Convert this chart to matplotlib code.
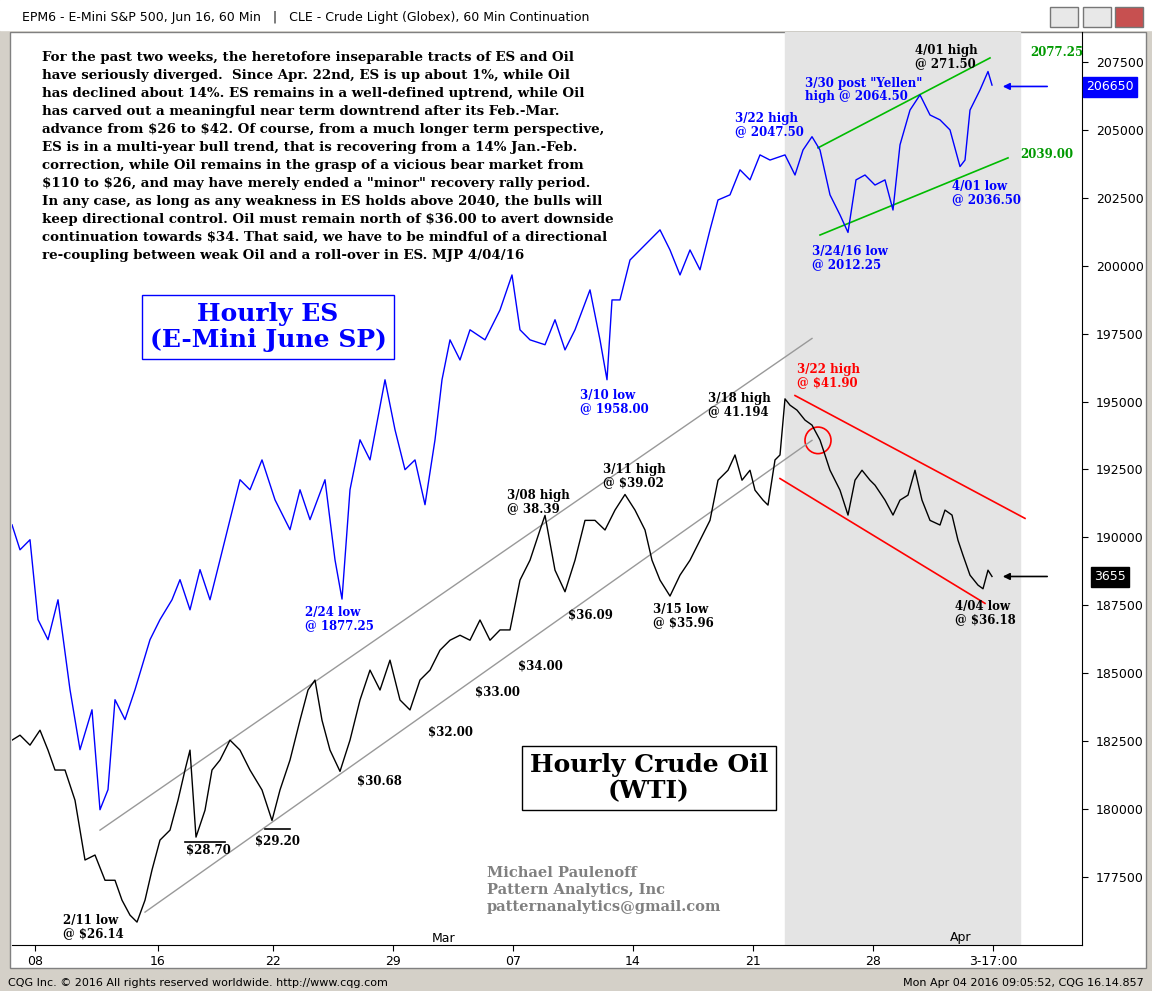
import numpy as np
import matplotlib.pyplot as plt
from matplotlib.patches import Rectangle, Ellipse

W, H = 1152, 991

# hourly bar index (one column per bar) and prices
es_bar = [12,20,30,38,48,58,70,80,92,100,108,115,125,135,150,160,172,180,190,200,210,220,230,240,250,262,275,290,300,310,325,335,342,350,360,370,385,395,405,415,425,435,442,450,460,470,485,500,512,520,530,545,555,565,575,590,600,607,612,620,630,640,650,660,670,680,690,700,710,718,730,740,750,760,770,785,795,803,812,820,830,840,848,856,865,875,885,893,900,910,920,930,940,950,960,965,970,980,988,992]
es_px = [1904.6,1895.4,1899.1,1869.7,1862.3,1877.0,1843.9,1821.8,1836.5,1799.7,1807.1,1840.2,1832.9,1843.9,1862.3,1869.7,1877.0,1884.4,1873.3,1888.1,1877.0,1891.7,1906.5,1921.2,1917.5,1928.5,1913.8,1902.8,1917.5,1906.5,1921.2,1891.7,1877.25,1917.5,1935.9,1928.5,1958.0,1939.6,1924.9,1928.5,1912.0,1935.9,1958.0,1972.7,1965.3,1976.4,1972.7,1983.7,1996.6,1976.4,1972.7,1970.9,1980.1,1969.0,1976.4,1991.1,1972.7,1958.0,1987.4,1987.4,2002.1,2005.8,2009.5,2013.2,2005.8,1996.6,2005.8,1998.5,2013.2,2024.2,2026.1,2035.3,2031.6,2040.8,2038.9,2040.8,2033.4,2042.6,2047.5,2042.6,2026.1,2018.7,2012.25,2031.6,2033.4,2029.7,2031.6,2020.5,2044.5,2057.3,2062.9,2055.5,2053.7,2050.0,2036.5,2038.9,2057.3,2064.7,2071.5,2066.5]

oil_bar = [12,20,30,40,48,55,65,75,85,95,105,115,122,130,137,145,152,160,170,178,185,190,196,205,212,220,230,240,250,262,272,280,290,300,308,315,322,330,340,350,360,370,380,390,400,410,420,430,440,450,460,470,480,490,500,510,520,530,540,545,555,565,575,585,595,605,615,625,635,645,652,660,670,680,690,700,710,718,728,735,742,750,755,763,768,775,780,785,790,797,805,812,820,825,830,840,848,855,862,870,875,885,893,900,908,915,922,930,940,945,952,958,963,970,978,983,988,992]
oil_px = [31.62,31.77,31.47,31.92,31.32,30.72,30.72,29.81,28.01,28.16,27.40,27.40,26.80,26.35,26.14,26.80,27.71,28.61,28.91,29.81,30.72,31.32,28.70,29.51,30.72,31.02,31.62,31.32,30.72,30.12,29.20,30.12,31.02,32.22,33.13,33.43,32.22,31.32,30.68,31.62,32.83,33.73,33.13,34.03,32.83,32.53,33.43,33.73,34.33,34.63,34.78,34.63,35.24,34.63,34.94,34.94,36.44,37.04,37.95,38.39,36.74,36.09,37.04,38.24,38.24,37.95,38.55,39.02,38.55,37.95,37.04,36.44,35.96,36.59,37.04,37.64,38.24,39.45,39.75,40.21,39.45,39.75,39.15,38.85,38.70,40.06,40.21,41.90,41.71,41.56,41.26,41.11,40.66,40.21,39.75,39.15,38.40,39.45,39.75,39.45,39.30,38.85,38.40,38.85,39.00,39.75,38.85,38.24,38.10,38.55,38.40,37.64,37.19,36.59,36.29,36.18,36.74,36.55]

es_ticks = list(range(177500, 207501, 2500))
date_bars = [35, 158, 273, 393, 513, 633, 753, 873]
date_lbls = ["08", "16", "22", "29", "07", "14", "21", "28"]

para = [
 "For the past two weeks, the heretofore inseparable tracts of ES and Oil",
 "have seriously diverged.  Since Apr. 22nd, ES is up about 1%, while Oil",
 "has declined about 14%. ES remains in a well-defined uptrend, while Oil",
 "has carved out a meaningful near term downtrend after its Feb.-Mar.",
 "advance from $26 to $42. Of course, from a much longer term perspective,",
 "ES is in a multi-year bull trend, that is recovering from a 14% Jan.-Feb.",
 "correction, while Oil remains in the grasp of a vicious bear market from",
 "$110 to $26, and may have merely ended a \"minor\" recovery rally period.",
 "In any case, as long as any weakness in ES holds above 2040, the bulls will",
 "keep directional control. Oil must remain north of $36.00 to avert downside",
 "continuation towards $34. That said, we have to be mindful of a directional",
 "re-coupling between weak Oil and a roll-over in ES. MJP 4/04/16",
]

SERIF = "DejaVu Serif"

def fx(x): return x / W
def fy(y): return 1 - y / H

fig = plt.figure(figsize=(W/100, H/100), dpi=100)
fig.patch.set_facecolor("#d4d0c8")

# title bar
fig.patches.append(Rectangle((0, fy(30)), 1, 30/H, transform=fig.transFigure, color="#ffffff", zorder=0))
fig.text(fx(22), fy(18), "EPM6 - E-Mini S&P 500, Jun 16, 60 Min   |   CLE - Crude Light (Globex), 60 Min Continuation",
         fontsize=9, va="center", family="DejaVu Sans")
for bx in [1050, 1083, 1115]:
    fig.patches.append(Rectangle((fx(bx), fy(27)), 28/W, 20/H, transform=fig.transFigure,
                                 facecolor="#e8e8e8" if bx < 1115 else "#c75050", edgecolor="#777777", zorder=1))

# white chart panel incl. right axis strip
fig.patches.append(Rectangle((fx(10), fy(968)), 1136/W, 936/H, transform=fig.transFigure,
                             facecolor="white", edgecolor="#808080", zorder=-1))

L, R, T, B = 12, 1082, 32, 945
ax = fig.add_axes([fx(L), fy(B), (R-L)/W, (B-T)/H])
ax.set_zorder(2)
ax.set_xlim(12, 1082)
ax.set_ylim(1749.89, 2086.05)
ax2 = ax.twinx()
ax2.set_zorder(3)
ax2.set_ylim(25.45, 52.95)
for a in (ax, ax2):
    a.set_facecolor("none")
    for s in a.spines.values():
        s.set_visible(False)
ax.spines["right"].set_visible(True)
ax.spines["right"].set_color("black")
ax.spines["bottom"].set_visible(True)
ax.spines["bottom"].set_color("black")
ax2.set_yticks([])

ax.set_yticks([v/100 for v in es_ticks])
ax.set_yticklabels([str(v) for v in es_ticks], fontsize=9, family="DejaVu Sans")
ax.yaxis.tick_right()
ax.tick_params(axis="y", length=4, pad=6)
ax.set_xticks(date_bars + [993])
ax.set_xticklabels(date_lbls + ["3-17:00"], fontsize=9, family="DejaVu Sans")
ax.tick_params(axis="x", length=4, pad=3)

# shaded recent period
ax.axvspan(785, 1020, color="#e4e4e4", zorder=0)

ax.plot(es_bar, es_px, color="#0000ff", lw=1.0, zorder=3)
ax2.plot(oil_bar, oil_px, color="black", lw=1.0, zorder=3)

# channels
ax2.plot([145, 812], [26.44, 40.65], color="#999999", lw=1)
ax2.plot([100, 812], [28.91, 43.72], color="#999999", lw=1)
ax2.plot([795, 1025], [42.0, 38.3], color="red", lw=1.2)
ax2.plot([780, 985], [39.5, 35.74], color="red", lw=1.2)
ax.plot([818, 990], [2043.4, 2076.5], color="#00bb00", lw=1.2)
ax.plot([820, 1008], [2011.3, 2039.7], color="#00bb00", lw=1.2)
ax2.plot([185, 225], [28.55, 28.55], color="black", lw=1.2)
ax2.plot([265, 290], [28.95, 28.95], color="black", lw=1.2)
ax2.add_patch(Ellipse((818, 40.65), 26, 0.8, fill=False, edgecolor="red", lw=1.2))

ax.annotate("", xy=(1000, 2066.0), xytext=(1050, 2066.0),
            arrowprops=dict(arrowstyle="-|>", color="#0000ff", lw=1.2))
ax2.annotate("", xy=(1000, 36.55), xytext=(1050, 36.55),
             arrowprops=dict(arrowstyle="-|>", color="black", lw=1.2))

# current price boxes
fig.text(fx(1110), fy(87), "206650", fontsize=9, color="white", ha="center", va="center", zorder=5,
         bbox=dict(boxstyle="square,pad=0.25", fc="#0000ff", ec="#0000ff"))
fig.text(fx(1110), fy(577), "3655", fontsize=9, color="white", ha="center", va="center", zorder=5,
         bbox=dict(boxstyle="square,pad=0.25", fc="black", ec="black"))

# paragraph
for i, line in enumerate(para):
    fig.text(fx(42), fy(57 + i*18), line.replace("$", r"\$"), fontsize=9.6, fontweight="bold",
             family=SERIF, va="center", zorder=5)

fig.text(fx(268), fy(327), "Hourly ES\n(E-Mini June SP)", fontsize=18, fontweight="bold", family=SERIF,
         color="#0000ff", ha="center", va="center", linespacing=1.1, zorder=5,
         bbox=dict(boxstyle="square,pad=0.3", fc="white", ec="#0000ff"))
fig.text(fx(649), fy(778), "Hourly Crude Oil\n(WTI)", fontsize=18, fontweight="bold", family=SERIF,
         color="black", ha="center", va="center", linespacing=1.1, zorder=5,
         bbox=dict(boxstyle="square,pad=0.3", fc="white", ec="black"))
fig.text(fx(487), fy(890), "Michael Paulenoff\nPattern Analytics, Inc\npatternanalytics@gmail.com", fontsize=10.5,
         fontweight="bold", family=SERIF, color="#808080", va="center", linespacing=1.25, zorder=5)

labels = [
 ("3/22 high\n@ 2047.50", 735, 125, "#0000ff"),
 ("4/01 high\n@ 271.50", 915, 57, "black"),
 ("3/30 post \"Yellen\"\nhigh @ 2064.50", 805, 90, "#0000ff"),
 ("2077.25", 1030, 53, "#009900"),
 ("2039.00", 1020, 155, "#009900"),
 ("4/01 low\n@ 2036.50", 952, 193, "#0000ff"),
 ("3/24/16 low\n@ 2012.25", 812, 258, "#0000ff"),
 ("3/10 low\n@ 1958.00", 580, 402, "#0000ff"),
 ("2/24 low\n@ 1877.25", 305, 619, "#0000ff"),
 ("3/18 high\n@ 41.194", 708, 405, "black"),
 ("3/22 high\n@ $41.90", 797, 376, "red"),
 ("3/11 high\n@ $39.02", 603, 476, "black"),
 ("3/08 high\n@ 38.39", 507, 502, "black"),
 ("$36.09", 568, 615, "black"),
 ("3/15 low\n@ $35.96", 653, 616, "black"),
 ("4/04 low\n@ $36.18", 955, 613, "black"),
 ("$34.00", 518, 666, "black"),
 ("$33.00", 475, 692, "black"),
 ("$32.00", 428, 732, "black"),
 ("$30.68", 357, 781, "black"),
 ("$28.70", 186, 850, "black"),
 ("$29.20", 255, 841, "black"),
 ("2/11 low\n@ $26.14", 63, 927, "black"),
]
for txt, x, y, c in labels:
    fig.text(fx(x), fy(y), txt.replace("$", r"\$"), fontsize=8.5, family=SERIF, fontweight="bold", color=c,
             va="center", linespacing=1.05, zorder=5)

fig.text(fx(432), fy(938), "Mar", fontsize=9, va="center", family="DejaVu Sans", zorder=5)
fig.text(fx(950), fy(938), "Apr", fontsize=9, va="center", family="DejaVu Sans", zorder=5)

fig.text(fx(8), fy(983), "CQG Inc. \u00a9 2016 All rights reserved worldwide. http://www.cqg.com", fontsize=8,
         va="center", family="DejaVu Sans")
fig.text(fx(1144), fy(983), "Mon Apr 04 2016 09:05:52, CQG 16.14.857", fontsize=8, ha="right",
         va="center", family="DejaVu Sans")

fig.savefig("out.png", dpi=100)
